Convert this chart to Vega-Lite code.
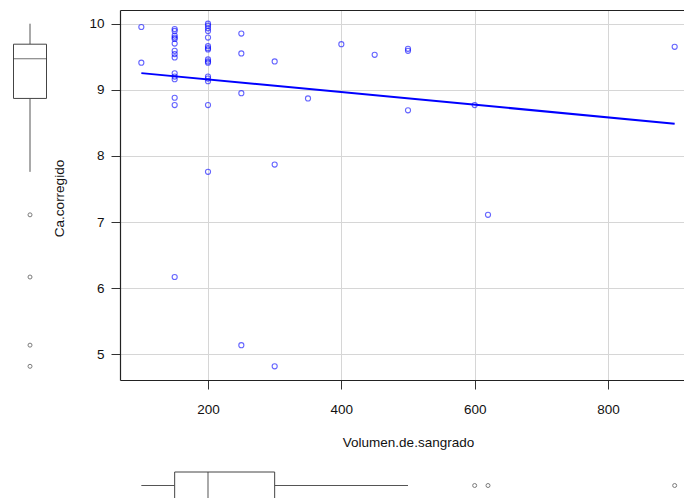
{
  "$schema": "https://vega.github.io/schema/vega-lite/v6.json",
  "usermeta": {"embedOptions": {"actions": false}},
  "padding": {"left": 13, "top": 10, "right": 0, "bottom": 0},
  "config": {
    "font": "Liberation Sans",
    "view": {"stroke": null},
    "axis": {
      "labelFontSize": 13.5,
      "titleFontSize": 13.5,
      "titleFontWeight": "normal",
      "labelColor": "#111",
      "titleColor": "#111",
      "domainColor": "#222",
      "domainWidth": 1.2,
      "tickColor": "#333",
      "gridColor": "#d6d6d6",
      "tickSize": 9
    }
  },
  "datasets": {
    "pts": [
      {"volumen": 100, "ca": 9.95}, {"volumen": 100, "ca": 9.41},
      {"volumen": 150, "ca": 9.92}, {"volumen": 150, "ca": 9.89}, {"volumen": 150, "ca": 9.82}, {"volumen": 150, "ca": 9.79},
      {"volumen": 150, "ca": 9.77}, {"volumen": 150, "ca": 9.70}, {"volumen": 150, "ca": 9.59}, {"volumen": 150, "ca": 9.54},
      {"volumen": 150, "ca": 9.49}, {"volumen": 150, "ca": 9.25}, {"volumen": 150, "ca": 9.20}, {"volumen": 150, "ca": 9.16},
      {"volumen": 150, "ca": 8.88}, {"volumen": 150, "ca": 8.77}, {"volumen": 150, "ca": 6.17},
      {"volumen": 200, "ca": 10.0}, {"volumen": 200, "ca": 9.97}, {"volumen": 200, "ca": 9.93}, {"volumen": 200, "ca": 9.89},
      {"volumen": 200, "ca": 9.79}, {"volumen": 200, "ca": 9.66}, {"volumen": 200, "ca": 9.63}, {"volumen": 200, "ca": 9.61},
      {"volumen": 200, "ca": 9.46}, {"volumen": 200, "ca": 9.43}, {"volumen": 200, "ca": 9.41}, {"volumen": 200, "ca": 9.20},
      {"volumen": 200, "ca": 9.17}, {"volumen": 200, "ca": 9.13}, {"volumen": 200, "ca": 8.77}, {"volumen": 200, "ca": 7.76},
      {"volumen": 250, "ca": 9.85}, {"volumen": 250, "ca": 9.55}, {"volumen": 250, "ca": 8.95}, {"volumen": 250, "ca": 5.14},
      {"volumen": 300, "ca": 9.43}, {"volumen": 300, "ca": 7.87}, {"volumen": 300, "ca": 4.82},
      {"volumen": 350, "ca": 8.87}, {"volumen": 400, "ca": 9.69}, {"volumen": 450, "ca": 9.53},
      {"volumen": 500, "ca": 9.62}, {"volumen": 500, "ca": 9.59}, {"volumen": 500, "ca": 8.69},
      {"volumen": 600, "ca": 8.77}, {"volumen": 620, "ca": 7.11}, {"volumen": 900, "ca": 9.65}
    ],
    "boxx": [{"lo": 100, "q1": 150, "med": 200, "q3": 300, "hi": 500}],
    "boxy": [{"lo": 7.76, "q1": 8.87, "med": 9.47, "q3": 9.69, "hi": 10.0}]
  },
  "columns": 2,
  "align": "each",
  "spacing": {"row": 22, "column": 5},
  "concat": [
    {
      "width": 34,
      "height": 370,
      "layer": [
        {"data": {"name": "boxy"}, "mark": {"type": "rule", "color": "#555", "strokeWidth": 1},
         "encoding": {"y": {"field": "lo", "type": "quantitative", "scale": {"domain": [4.613, 10.207], "nice": false, "zero": false}, "axis": null}, "y2": {"field": "q1"}}},
        {"data": {"name": "boxy"}, "mark": {"type": "rule", "color": "#555", "strokeWidth": 1},
         "encoding": {"y": {"field": "q3", "type": "quantitative", "scale": {"domain": [4.613, 10.207], "nice": false, "zero": false}, "axis": null}, "y2": {"field": "hi"}}},
        {"data": {"name": "boxy"}, "mark": {"type": "bar", "size": 33, "fill": "white", "stroke": "#444", "strokeWidth": 1},
         "encoding": {"y": {"field": "q1", "type": "quantitative", "scale": {"domain": [4.613, 10.207], "nice": false, "zero": false}, "axis": null}, "y2": {"field": "q3"}}},
        {"data": {"name": "boxy"}, "mark": {"type": "tick", "orient": "horizontal", "size": 33, "thickness": 1.2, "color": "#333"},
         "encoding": {"y": {"field": "med", "type": "quantitative", "scale": {"domain": [4.613, 10.207], "nice": false, "zero": false}, "axis": null}}},
        {"data": {"name": "pts"}, "transform": [{"filter": "datum.ca < 7.7"}],
         "mark": {"type": "point", "shape": "circle", "filled": false, "size": 16, "color": "#444", "strokeWidth": 1},
         "encoding": {"y": {"field": "ca", "type": "quantitative", "scale": {"domain": [4.613, 10.207], "nice": false, "zero": false}, "axis": null}}}
      ]
    },
    {
      "width": 564,
      "height": 370,
      "data": {"name": "pts"},
      "layer": [
        {
          "mark": {"type": "point", "shape": "circle", "filled": false, "size": 26, "color": "#0000ff", "opacity": 0.6, "strokeWidth": 1.1},
          "encoding": {
            "x": {"field": "volumen", "type": "quantitative", "scale": {"domain": [68, 914], "nice": false, "zero": false},
                  "axis": {"values": [200, 400, 600, 800], "title": "Volumen.de.sangrado", "grid": true, "labelPadding": 13,
                           "titleX": 288, "titleY": 66, "titleBaseline": "alphabetic", "titleAnchor": "middle", "titleAlign": "center"}},
            "y": {"field": "ca", "type": "quantitative", "scale": {"domain": [4.613, 10.207], "nice": false, "zero": false},
                  "axis": {"values": [5, 6, 7, 8, 9, 10], "title": "Ca.corregido", "grid": true, "labelPadding": 7, "labelAngle": 0,
                           "titleX": -57, "titleY": 188, "titleBaseline": "alphabetic", "titleAngle": 270, "titleAlign": "center"}}
          }
        },
        {
          "transform": [{"regression": "ca", "on": "volumen"}],
          "mark": {"type": "line", "color": "#0000ff", "strokeWidth": 2},
          "encoding": {
            "x": {"field": "volumen", "type": "quantitative", "axis": null},
            "y": {"field": "ca", "type": "quantitative", "axis": null}
          }
        },
        {
          "mark": {"type": "point", "opacity": 0},
          "encoding": {
            "x": {"field": "volumen", "type": "quantitative",
                  "axis": {"orient": "top", "labels": false, "ticks": false, "grid": false, "domain": true, "title": null}},
            "y": {"field": "ca", "type": "quantitative", "axis": null}
          }
        }
      ],
      "resolve": {"axis": {"x": "independent", "y": "independent"}}
    },
    {
      "width": 34,
      "height": 27,
      "data": {"values": []},
      "mark": "point"
    },
    {
      "width": 564,
      "height": 27,
      "layer": [
        {"data": {"name": "boxx"}, "mark": {"type": "rule", "color": "#555", "strokeWidth": 1},
         "encoding": {"x": {"field": "lo", "type": "quantitative", "scale": {"domain": [68, 914], "nice": false, "zero": false}, "axis": null}, "x2": {"field": "q1"}}},
        {"data": {"name": "boxx"}, "mark": {"type": "rule", "color": "#555", "strokeWidth": 1},
         "encoding": {"x": {"field": "q3", "type": "quantitative", "scale": {"domain": [68, 914], "nice": false, "zero": false}, "axis": null}, "x2": {"field": "hi"}}},
        {"data": {"name": "boxx"}, "mark": {"type": "bar", "size": 27, "fill": "white", "stroke": "#444", "strokeWidth": 1},
         "encoding": {"x": {"field": "q1", "type": "quantitative", "scale": {"domain": [68, 914], "nice": false, "zero": false}, "axis": null}, "x2": {"field": "q3"}}},
        {"data": {"name": "boxx"}, "mark": {"type": "tick", "orient": "vertical", "size": 27, "thickness": 1.2, "color": "#333"},
         "encoding": {"x": {"field": "med", "type": "quantitative", "scale": {"domain": [68, 914], "nice": false, "zero": false}, "axis": null}}},
        {"data": {"name": "pts"}, "transform": [{"filter": "datum.volumen > 500"}],
         "mark": {"type": "point", "shape": "circle", "filled": false, "size": 16, "color": "#444", "strokeWidth": 1},
         "encoding": {"x": {"field": "volumen", "type": "quantitative", "scale": {"domain": [68, 914], "nice": false, "zero": false}, "axis": null}}}
      ]
    }
  ]
}
